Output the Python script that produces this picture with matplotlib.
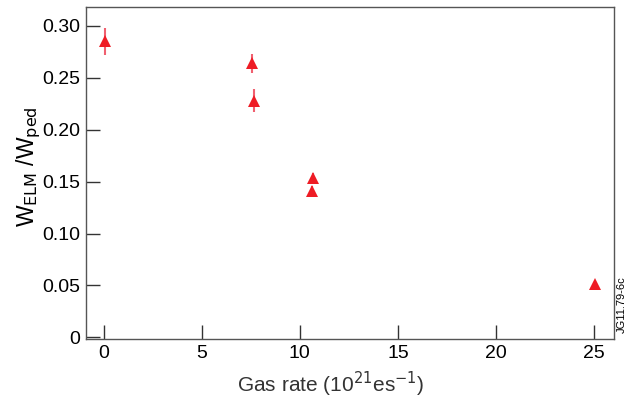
import matplotlib.pyplot as plt

plt.rcParams['font.family'] = ['Liberation Sans', 'DejaVu Sans']

# Gas rate (1e21 e/s) vs ELM energy fraction
gas_rate = [0.05, 7.56, 7.64, 10.65, 10.6, 25.05]
w_ratio = [0.285, 0.264, 0.228, 0.153, 0.141, 0.051]
w_err = [0.013, 0.009, 0.011, 0.005, 0.005, 0.0]

red = '#ee1c25'

fig = plt.figure(figsize=(6.27, 3.97), dpi=100)
ax = fig.add_axes([0.137, 0.145, 0.842, 0.837])

ax.errorbar(gas_rate, w_ratio, yerr=w_err, fmt='none', ecolor='#f06070',
            elinewidth=1.5, capsize=0)
ax.plot(gas_rate, w_ratio, linestyle='none', marker='^', color=red,
        markersize=9, markeredgewidth=0)

ax.set_xlim(-0.9, 26)
ax.set_ylim(-0.002, 0.318)
ax.set_xticks([0, 5, 10, 15, 20, 25])
ax.set_yticks([0, 0.05, 0.10, 0.15, 0.20, 0.25, 0.30])
ax.set_yticklabels(['0', '0.05', '0.10', '0.15', '0.20', '0.25', '0.30'])

ax.tick_params(direction='in', length=10, width=1, labelsize=14,
               color='#333333', top=False, right=False, pad=4)
for s in ax.spines.values():
    s.set_color('#555555')
    s.set_linewidth(1)

ax.set_xlabel('Gas rate (10$^{21}$es$^{-1}$)', fontsize=15, color='#333333')
ax.xaxis.set_label_coords(0.464, -0.09)
ax.set_ylabel('W$_{\\mathrm{ELM}}$ /W$_{\\mathrm{ped}}$', fontsize=16.5)
ax.yaxis.set_label_coords(-0.082, 0.52)

fig.text(0.992, 0.16, 'JG11.79-6c', rotation=90, fontsize=8,
         ha='center', va='bottom')

fig.savefig('out.png', dpi=100)
